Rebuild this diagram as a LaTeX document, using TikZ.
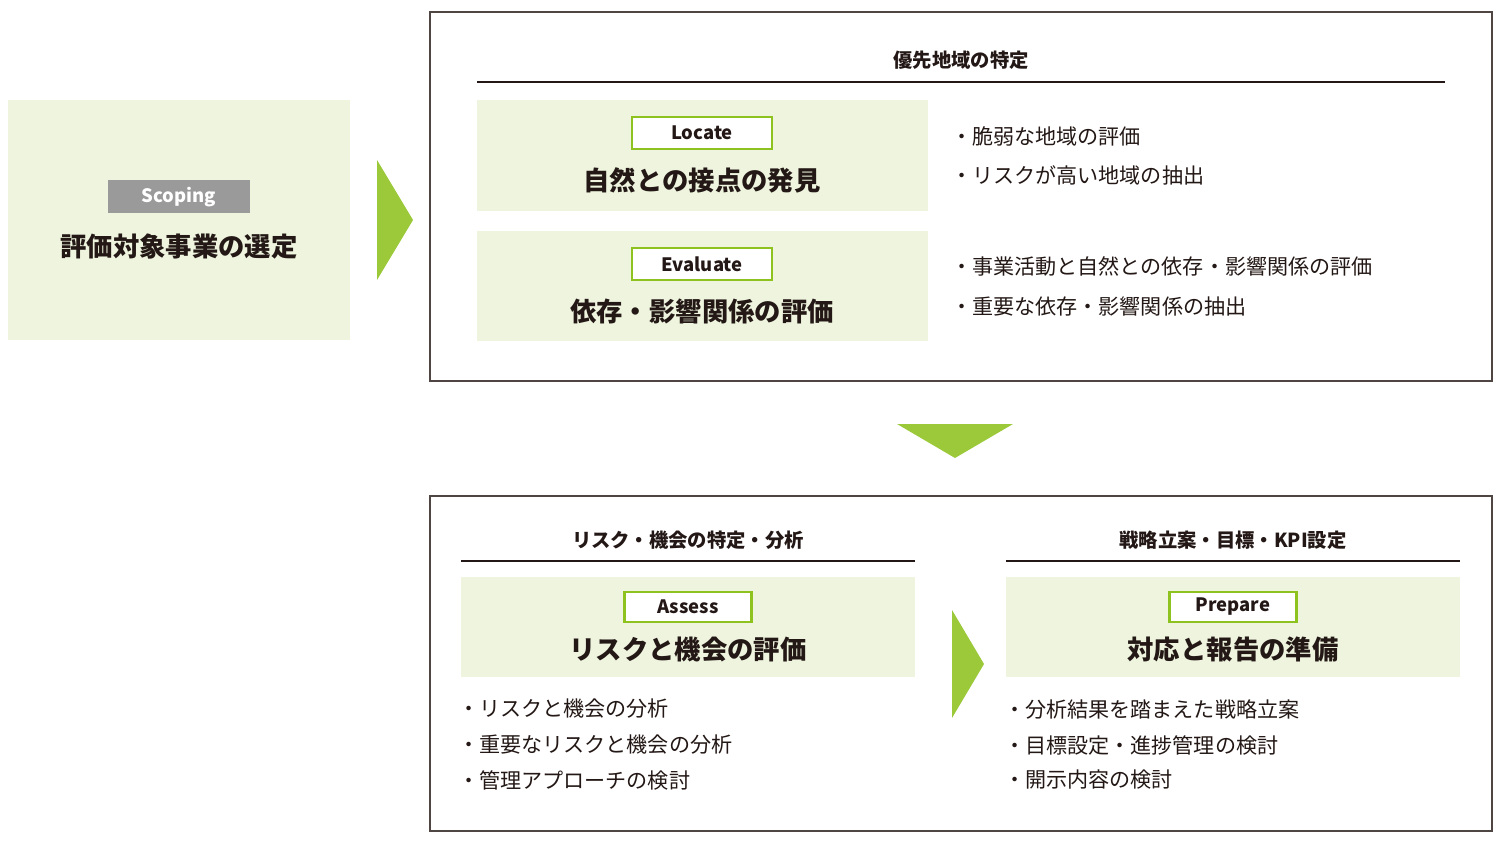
\documentclass[tikz,border=0pt]{standalone}
\usepackage{fontspec}
\setmainfont{Noto Sans CJK JP}
\newfontfamily\jpb{Noto Sans CJK JP}[BoldFont={* Bold},UprightFont={* Medium}]
\definecolor{lg}{HTML}{EEF4DE}
\definecolor{gb}{HTML}{8DC21F}
\definecolor{ga}{HTML}{9BC93A}
\definecolor{gy}{HTML}{9A9A9A}
\definecolor{tx}{HTML}{231815}
\begin{document}
\begin{tikzpicture}[x=0.02cm,y=-0.02cm,
  fillbox/.style={fill=lg,draw=none},
  frame/.style={draw=tx!80,line width=0.8pt},
  tag/.style={draw=gb,line width=1.2pt,fill=white,inner sep=0,font=\fontsize{10.5}{12}\selectfont\bfseries,text=tx},
  head/.style={font=\fontsize{15}{18}\selectfont\bfseries,text=tx},
  ttl/.style={font=\fontsize{11}{13}\selectfont\bfseries,text=tx},
  bul/.style={font=\fontsize{12}{14}\selectfont,text=tx,anchor=west},
  arr/.style={fill=ga,draw=none}]
\useasboundingbox (0,0) rectangle (1500,858);
% scoping
\fill[fillbox] (8,100) rectangle (350,340);
\node[fill=gy,minimum width=142*0.02cm,minimum height=33*0.02cm,inner sep=0,text=white,font=\fontsize{10.5}{12}\selectfont\bfseries] (sc) at (179,197) {Scoping};
\node[head] (sct) at (179,247) {評価対象事業の選定};
\fill[arr] (377,160) -- (413,220) -- (377,280) -- cycle;
% top frame
\draw[frame] (430,12) rectangle (1492,381);
\node[ttl] (t1) at (961,60) {優先地域の特定};
\draw[tx,line width=0.8pt] (477,82) -- (1445,82);
\fill[fillbox] (477,100) rectangle (928,211);
\node[tag,minimum width=140*0.02cm,minimum height=32*0.02cm] (loc) at (702,133) {Locate};
\node[head] (loct) at (702,180) {自然との接点の発見};
\fill[fillbox] (477,231) rectangle (928,341);
\node[tag,minimum width=140*0.02cm,minimum height=32*0.02cm] (ev) at (702,264) {Evaluate};
\node[head] (evt) at (702,311) {依存・影響関係の評価};
\node[bul] at (945,136) {・脆弱な地域の評価};
\node[bul] at (945,175) {・リスクが高い地域の抽出};
\node[bul] at (945,266) {・事業活動と自然との依存・影響関係の評価};
\node[bul] at (945,306) {・重要な依存・影響関係の抽出};
\fill[arr] (897,424) -- (1013,424) -- (955,458) -- cycle;
% bottom frame
\draw[frame] (430,496) rectangle (1492,831);
\node[ttl] (t2) at (688,540) {リスク・機会の特定・分析};
\draw[tx,line width=0.8pt] (461,561) -- (915,561);
\fill[fillbox] (461,577) rectangle (915,677);
\node[tag,minimum width=127*0.02cm,minimum height=30*0.02cm] (as) at (688,607) {Assess};
\node[head] (ast) at (688,649) {リスクと機会の評価};
\node[bul] at (452,709) {・リスクと機会の分析};
\node[bul] at (452,745) {・重要なリスクと機会の分析};
\node[bul] at (452,780) {・管理アプローチの検討};
\fill[arr] (952,610) -- (984,664) -- (952,718) -- cycle;
\node[ttl] (t3) at (1233,540) {戦略立案・目標・KPI設定};
\draw[tx,line width=0.8pt] (1006,561) -- (1460,561);
\fill[fillbox] (1006,577) rectangle (1460,677);
\node[tag,minimum width=127*0.02cm,minimum height=30*0.02cm] (pr) at (1233,607) {Prepare};
\node[head] (prt) at (1233,649) {対応と報告の準備};
\node[bul] at (998,709) {・分析結果を踏まえた戦略立案};
\node[bul] at (998,745) {・目標設定・進捗管理の検討};
\node[bul] at (998,780) {・開示内容の検討};
\end{tikzpicture}
\end{document}
